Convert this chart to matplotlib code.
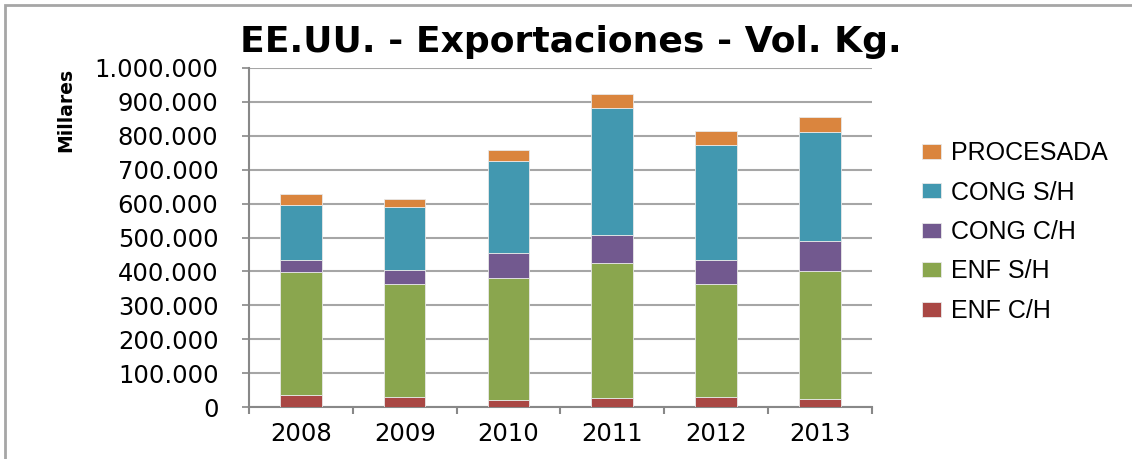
import matplotlib.pyplot as plt
from matplotlib.patches import Rectangle
import numpy as np

# values in thousands of kg
years = ["2008", "2009", "2010", "2011", "2012", "2013"]
enf_ch = [35, 31, 22, 28, 29, 25]
enf_sh = [364, 331, 358, 397, 334, 376]
cong_ch = [34, 41, 74, 82, 72, 90]
cong_sh = [164, 186, 271, 376, 338, 320]
procesada = [32, 26, 33, 40, 40, 43]

series = [
    ("ENF C/H", enf_ch, "#A94744"),
    ("ENF S/H", enf_sh, "#8AA64E"),
    ("CONG C/H", cong_ch, "#72598F"),
    ("CONG S/H", cong_sh, "#4298B0"),
    ("PROCESADA", procesada, "#DA853E"),
]

fig = plt.figure(figsize=(11.32, 4.59), dpi=100)
ax = fig.add_axes([0.220, 0.113, 0.550, 0.739])

x = np.arange(len(years))
bottom = np.zeros(len(years))
handles = []
for name, vals, col in series:
    v = np.array(vals) * 1000
    h = ax.bar(x, v, 0.4, bottom=bottom, color=col, edgecolor="#e8e8e8",
               linewidth=0.6, label=name, zorder=3)
    handles.append(h)
    bottom += v

ax.set_xlim(-0.5, len(years) - 0.5)
ax.set_ylim(0, 1_000_000)
ax.set_yticks(np.arange(0, 1_000_001, 100_000))
ax.set_yticklabels(["0"] + [f"{t:,}".replace(",", ".") for t in range(100_000, 1_000_001, 100_000)],
                   fontsize=17.5)
ax.set_xticks(x)
ax.set_xticklabels(years, fontsize=17.5)
ax.set_xticks(np.arange(-0.5, len(years)), minor=True)
ax.tick_params(axis="x", which="major", length=0, pad=11)
ax.tick_params(axis="x", which="minor", length=5, color="#888888", width=1.5)
ax.tick_params(axis="y", length=5, color="#888888", width=1.2, pad=17)

ax.grid(axis="y", color="#a6a6a6", linewidth=1.5, zorder=0)
for s in ["top", "right"]:
    ax.spines[s].set_visible(False)
for s in ["left", "bottom"]:
    ax.spines[s].set_color("#888888")
    ax.spines[s].set_linewidth(1.5)

fig.text(66 / 1132, 1 - 110 / 459, "Millares", rotation=90, ha="center", va="center",
         fontsize=13.5, fontweight="bold")

fig.text(571 / 1132, 1 - 42 / 459, "EE.UU. - Exportaciones - Vol. Kg.", ha="center",
         va="center", fontsize=26, fontweight="bold")

leg = fig.legend(handles[::-1], [s[0] for s in series][::-1], loc="center left",
                 bbox_to_anchor=(0.795, 1 - 232 / 459), frameon=False,
                 handlelength=0.75, handleheight=0.55, labelspacing=0.62,
                 handletextpad=0.4, prop={"family": "Liberation Sans", "size": 18})

fig.patches.append(Rectangle((5 / 1132, -0.1), 1.2, 1 - 5 / 459 + 0.1,
                             transform=fig.transFigure, fill=False,
                             edgecolor="#a6a6a6", linewidth=2))

fig.savefig("out.png", dpi=100)
